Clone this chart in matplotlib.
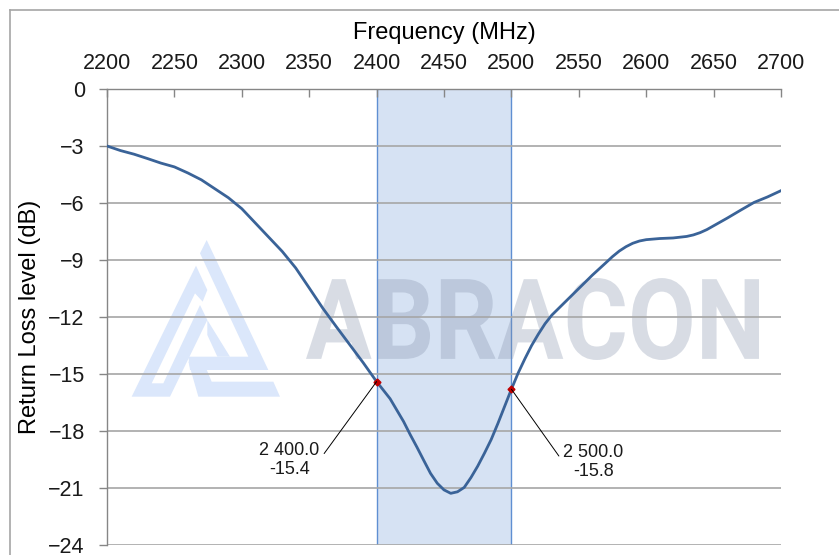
import numpy as np
import matplotlib
matplotlib.use('Agg')
import matplotlib.pyplot as plt
from matplotlib.textpath import TextPath
from matplotlib.font_manager import FontProperties
from matplotlib.patches import PathPatch, Polygon
from matplotlib.transforms import Affine2D
from matplotlib.lines import Line2D

plt.rcParams['font.family'] = ['Liberation Sans', 'DejaVu Sans']

# 读数：回波损耗曲线
freq = [2200, 2210, 2220, 2230, 2240, 2250, 2260, 2270, 2280, 2290,
        2300, 2310, 2320, 2330, 2340, 2350, 2360, 2370, 2380, 2390,
        2400, 2405, 2410, 2415, 2420, 2425, 2430, 2435, 2440, 2445,
        2450, 2455, 2460, 2465, 2470, 2475, 2480, 2485, 2490, 2495,
        2500, 2505, 2510, 2515, 2520, 2525, 2530, 2540, 2550, 2560,
        2570, 2575, 2580, 2585, 2590, 2595, 2600, 2610, 2620, 2630,
        2635, 2640, 2645, 2650, 2660, 2670, 2680, 2690, 2700]
return_loss = [-3.0, -3.24, -3.43, -3.66, -3.9, -4.1, -4.42, -4.78, -5.25, -5.72,
               -6.3, -7.05, -7.8, -8.55, -9.42, -10.47, -11.53, -12.5, -13.45, -14.4,
               -15.4, -15.85, -16.3, -16.9, -17.5, -18.2, -18.86, -19.55, -20.23, -20.75,
               -21.1, -21.28, -21.2, -20.97, -20.45, -19.85, -19.17, -18.45, -17.6, -16.7,
               -15.8, -14.95, -14.2, -13.5, -12.9, -12.35, -11.9, -11.2, -10.5, -9.8,
               -9.15, -8.82, -8.53, -8.3, -8.12, -8.0, -7.93, -7.87, -7.84, -7.76,
               -7.68, -7.56, -7.4, -7.2, -6.8, -6.38, -5.97, -5.68, -5.35]

band_lo, band_hi = 2400, 2500
marker_f = [2400, 2500]
marker_rl = [-15.4, -15.8]
marker_labels = ['2 400.0\n-15.4', '2 500.0\n-15.8']

xticks = [2200, 2250, 2300, 2350, 2400, 2450, 2500, 2550, 2600, 2650, 2700]
yticks = [0, -3, -6, -9, -12, -15, -18, -21, -24]

W, H = 839, 555
fig = plt.figure(figsize=(W / 100, H / 100), dpi=100)
ax = fig.add_axes([107 / W, 1 - 545 / H, 674 / W, 456 / H])

# 外框（只看得到上边和左边）
fig.add_artist(Line2D([10 / W, 1], [1 - 10 / H, 1 - 10 / H], color='#a6a6a6', lw=1.2,
                      transform=fig.transFigure))
fig.add_artist(Line2D([10 / W, 10 / W], [0, 1 - 10 / H], color='#a6a6a6', lw=1.2,
                      transform=fig.transFigure))

# 频段阴影
ax.axvspan(band_lo, band_hi, facecolor='#d6e2f3', edgecolor='none', zorder=0.2)
ax.axvline(band_lo, color='#5f8fd2', lw=1, zorder=0.25)
ax.axvline(band_hi, color='#5f8fd2', lw=1, zorder=0.25)


# 水印（像素坐标 -> 轴坐标）
def px2ax(x, y):
    return ((x - 107) / 674, (545 - y) / 456)


fp = FontProperties(family='Roboto', weight='bold')
tp = TextPath((0, 0), 'ABRACON', size=100, prop=fp)
ext = tp.get_extents()
x0, y1 = px2ax(306, 278)
x1, y0 = px2ax(759, 360)
tr = (Affine2D().translate(-ext.x0, -ext.y0)
      .scale((x1 - x0) / ext.width, (y1 - y0) / ext.height)
      .translate(x0, y0))
ax.add_patch(PathPatch(tr.transform_path(tp), facecolor='#808ea8', edgecolor='none',
                       alpha=0.3, transform=ax.transAxes, zorder=0.3))


def zoomed(pts):
    return [px2ax(120 + zx / 3, 235 + zy / 3) for zx, zy in pts]


logo_color = '#dbe7fb'
logo_parts = [
    [(35, 485), (228, 92), (262, 165), (248, 200), (225, 175), (95, 445), (130, 445),
     (240, 210), (262, 255), (150, 485)],
    [(260, 15), (445, 405), (210, 405), (205, 365), (385, 365), (240, 55)],
    [(262, 255), (330, 365), (292, 365), (262, 300)],
    [(205, 380), (250, 380), (275, 440), (460, 440), (480, 485), (235, 485)],
]
for part in logo_parts:
    ax.add_patch(Polygon(zoomed(part), closed=True, facecolor=logo_color, edgecolor='none',
                         transform=ax.transAxes, zorder=0.3))

# 曲线
ax.plot(freq, return_loss, color='#3a6398', lw=2.0, zorder=3)
ax.plot(marker_f, marker_rl, linestyle='none', marker='D', ms=3.5, color='#c00000', zorder=4)

offsets = [(-87, -78), (82, -73)]
relpos = [(1.0, 0.5), (0.0, 0.5)]
for f, r, lab, off, rp in zip(marker_f, marker_rl, marker_labels, offsets, relpos):
    ax.annotate(lab, xy=(f, r), xytext=off, textcoords='offset pixels',
                ha='center', va='center', fontsize=13, color='#1a1a1a', linespacing=1.15,
                arrowprops=dict(arrowstyle='-', color='black', lw=0.7, relpos=rp,
                                shrinkA=2, shrinkB=0), zorder=5)

ax.set_xlim(2200, 2700)
ax.set_ylim(-24, 0)
ax.set_xticks(xticks)
ax.set_yticks(yticks)
ax.xaxis.tick_top()
ax.xaxis.set_label_position('top')
ax.tick_params(axis='x', direction='in', length=6, color='#868686', width=1,
               labelsize=15.5, pad=11, labelcolor='#1a1a1a')
ax.tick_params(axis='y', direction='out', length=6, color='#868686', width=1,
               labelsize=15.5, pad=10, labelcolor='#1a1a1a')
ax.set_axisbelow(True)
ax.yaxis.grid(True, color='#a6a6a6', lw=1.2)
for s in ['right', 'bottom']:
    ax.spines[s].set_visible(False)
for s in ['top', 'left']:
    ax.spines[s].set_color('#868686')
    ax.spines[s].set_linewidth(1)

ax.set_xlabel('Frequency (MHz)', fontsize=17, labelpad=10)
ax.set_ylabel('Return Loss level (dB)', fontsize=17, labelpad=5)

fig.savefig('out.png', dpi=100)
